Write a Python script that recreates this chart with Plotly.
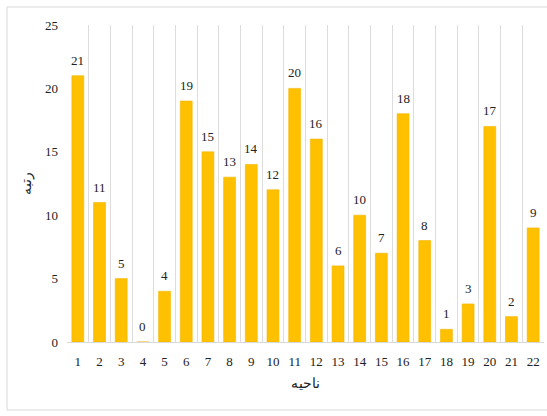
import plotly.graph_objects as go

# District numbers and their ranks
districts = list(range(1, 23))
ranks = [21, 11, 5, 0, 4, 19, 15, 13, 14, 12, 20, 16, 6, 10, 7, 18, 8, 1, 3, 17, 2, 9]
y_ticks = [0, 5, 10, 15, 20, 25]

W, H = 547, 416
L, R, T, B = 67, 3, 25, 74
pw, ph = W - L - R, H - T - B

serif = "Liberation Serif, Times New Roman, serif"

fig = go.Figure(
    go.Bar(
        x=districts,
        y=ranks,
        width=0.55,
        marker=dict(color="#FFC000", line=dict(color="#F2B600", width=0.6)),
        hoverinfo="x+y",
    )
)

# value labels above each bar
for d, v in zip(districts, ranks):
    fig.add_annotation(
        x=d, y=v, text=str(v), showarrow=False,
        xanchor="center", yanchor="bottom", yshift=6,
        font=dict(family=serif, size=13, color="#222222"),
    )

fig.update_layout(
    width=W,
    height=H,
    margin=dict(l=L, r=R, t=T, b=B),
    paper_bgcolor="white",
    plot_bgcolor="white",
    showlegend=False,
    font=dict(family=serif, size=13, color="#222222"),
    xaxis=dict(
        range=[0.5, 22.5],
        tickmode="array",
        tickvals=districts,
        ticktext=[str(d) for d in districts],
        showgrid=False,
        zeroline=False,
        showline=True,
        linecolor="#d9d9d9",
        linewidth=1,
        ticks="outside",
        ticklen=7,
        tickcolor="rgba(0,0,0,0)",
        tickfont=dict(family=serif, size=13),
        minor=dict(tick0=0.5, dtick=1, showgrid=True, gridcolor="#dcdcdc", gridwidth=1),
        title=dict(text="ناحیه", font=dict(size=14, color="#222222"), standoff=10),
    ),
    yaxis=dict(
        range=[0, 25],
        tickmode="array",
        tickvals=y_ticks,
        ticktext=[str(v) for v in y_ticks],
        showgrid=False,
        zeroline=False,
        showline=False,
        ticks="",
        ticklabelstandoff=8,
        tickfont=dict(family=serif, size=13),
        title=dict(text="رتبه", font=dict(size=14, color="#222222"), standoff=10),
    ),
    shapes=[
        dict(
            type="rect",
            xref="paper",
            yref="paper",
            x0=(7 - L) / pw,
            x1=(W + 5 - L) / pw,
            y0=(H - B - 410) / ph,
            y1=(H - B - 7) / ph,
            line=dict(color="#d9d9d9", width=1),
            fillcolor="rgba(0,0,0,0)",
            layer="below",
        )
    ],
)

fig.write_html("out.html")
